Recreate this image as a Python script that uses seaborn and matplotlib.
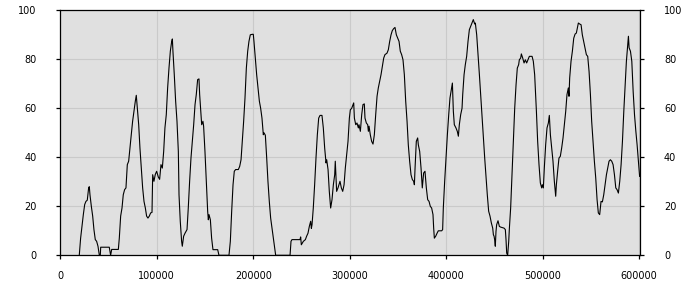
import matplotlib
matplotlib.use("Agg")
import matplotlib.pyplot as plt
import seaborn as sns
import pandas as pd

# x positions in thousands, y values (0-100)
x_k = [
    19.7, 21.1, 22.5, 23.9, 25.3, 26.6, 28.0, 29.4, 30.1, 30.8, 32.2, 33.6, 34.9, 36.3, 37.7, 39.1, 40.5, 41.5, 41.9,
    50.8, 52.2, 53.3, 60.2, 61.2, 62.6, 64.0, 65.3, 66.7, 68.1, 69.5, 70.9, 72.3, 73.6, 75.0, 76.4, 77.8, 78.8, 79.9,
    81.3, 82.6, 84.0, 85.4, 86.8, 88.2, 89.5, 90.9, 92.3, 93.7, 95.1, 95.8, 97.1, 98.5, 99.9,
    101.6, 103.0, 104.4, 105.8, 107.2, 108.5, 109.9, 111.3, 112.7, 114.1, 115.5, 116.2, 116.8, 118.2, 119.6, 121.0,
    122.4, 123.1, 124.4, 125.8, 126.5, 127.9, 129.3, 131.4, 132.7, 134.1, 135.5, 136.9, 138.3, 139.7, 141.0, 142.4,
    143.8, 144.5, 145.9, 146.6, 147.9, 148.6, 150.0, 151.4, 152.8, 153.5, 154.2, 155.6, 156.9, 158.3, 163.2, 164.5,
    174.9, 176.3, 177.7, 179.1, 180.4, 181.8, 184.6, 186.0, 187.4, 188.7, 190.1, 191.5, 192.9, 194.3, 195.6, 197.0, 199.1,
    200.1, 200.8, 202.2, 203.6, 205.0, 206.4, 207.7, 209.1, 210.5, 211.2, 212.6, 214.0, 215.3, 216.7, 218.1, 219.5,
    220.9, 222.3, 223.3, 238.2, 239.2, 240.2, 248.5, 249.2, 249.9, 252.0, 254.1, 255.4, 256.8, 258.2, 259.6, 260.3,
    261.0, 262.3, 263.7, 265.1, 266.5, 267.9, 269.3, 271.3, 272.7, 274.1, 275.5, 276.2, 277.6, 278.9, 280.3, 281.7,
    283.1, 284.5, 285.1, 286.5, 287.9, 290.0, 291.4, 292.8, 294.2, 295.5, 296.9, 298.3, 299.7,
    300.7, 302.1, 303.5, 304.2, 304.9, 306.3, 307.6, 309.0, 309.7, 311.1, 312.5, 313.8, 315.2, 315.9, 317.3, 318.7,
    319.4, 320.1, 321.4, 322.8, 324.2, 325.6, 327.0, 328.4, 329.7, 331.1, 332.5, 333.9, 335.3, 336.6, 338.7, 340.1,
    341.5, 342.9, 344.2, 345.6, 347.0, 348.4, 349.8, 351.2, 352.5, 353.9, 355.3, 356.7, 358.1, 359.5, 360.8, 362.2,
    363.6, 365.0, 366.4, 367.1, 367.8, 369.1, 370.5, 371.2, 372.6, 374.0, 375.3, 376.7, 378.1, 379.5, 380.9, 382.3,
    383.6, 385.0, 386.4, 387.1, 387.8, 389.2, 390.6, 391.9, 395.4,
    396.4, 397.1, 398.5, 399.9, 401.3, 402.7, 404.0, 405.4, 406.5, 407.5, 408.5, 410.2, 411.6, 412.7, 413.7, 415.1,
    416.5, 417.2, 418.6, 419.9, 421.3, 422.7, 424.1, 425.5, 426.9, 428.2, 429.6, 430.3, 431.7, 433.1, 434.5, 435.8,
    437.2, 438.6, 440.0, 441.4, 442.7, 444.1, 445.5, 446.9, 448.3, 449.0, 449.7, 450.3, 451.0, 451.7, 452.4, 453.8,
    455.2, 456.6, 460.0, 461.4, 462.1, 462.8, 463.8, 464.9, 465.6, 466.9, 468.3, 469.7, 471.1, 472.5, 473.8, 475.2,
    475.9, 477.3, 478.0, 479.4, 480.8, 482.1, 483.5, 484.9, 486.3, 489.1, 490.4, 491.8,
    493.6, 494.9, 496.3, 497.7, 499.1, 499.8, 500.8, 501.8, 503.2, 504.6, 506.0, 507.0, 508.1, 509.4, 510.8, 512.2,
    513.6, 514.3, 515.6, 517.0, 518.4, 519.8, 521.2, 522.6, 524.0, 525.3, 526.7, 527.4, 528.1, 529.5, 530.9, 532.3,
    533.7, 535.0, 536.4, 537.1, 538.5, 539.9, 541.2, 542.6, 544.0, 545.4, 546.8, 548.2, 549.6, 550.9, 552.3, 553.7,
    555.1, 556.5, 557.8, 559.2, 560.6, 562.0, 563.4, 564.8, 566.2, 567.5, 568.9, 570.3, 571.7, 573.1, 574.5, 575.9,
    577.2, 578.6, 580.0, 581.4, 582.8, 584.2, 585.5, 586.9, 588.3, 589.0, 589.7, 591.1, 592.5, 593.9, 595.3, 596.7,
    598.0, 599.3, 600.6,
]
y_vals = [
    0, 7, 12, 16.6, 20.7, 22, 22.5, 27.5, 28, 24.7, 20, 16, 10.5, 6.4, 5.7, 3.7, 0, 0, 3.3,
    3.3, 0, 2.4, 2.4, 7, 16, 19.3, 24.7, 26.8, 27.5, 37, 38.4, 43.8, 49.2, 54.7, 58.8, 62.9, 65.3, 60,
    53.3, 43.8, 35.6, 27.5, 22, 19.3, 16, 15.2, 16, 17.3, 17.5, 32.9, 30.2, 33, 34.3,
    32, 31, 37, 35.6, 42.4, 52, 57.4, 68.3, 76.4, 83.3, 87.3, 88.3, 83.3, 73.7, 62.9, 54.7,
    42.4, 24.7, 13.9, 5.7, 3.7, 7.8, 9, 10.5, 19.3, 30.2, 39.7, 46.5, 53.3, 61.5, 65.6, 71.7,
    72, 65.6, 57.4, 53.3, 54.7, 52.7, 42.4, 30.2, 18, 14.5, 16.6, 14.5, 7, 2.3, 2.3, 0,
    0, 5.7, 18, 28.8, 34.3, 35, 35, 36.3, 39, 46.5, 54.7, 64.2, 76.4, 83.3, 87.3, 90, 90.2,
    90.2, 87.3, 80.5, 73.7, 68.3, 62.9, 60.1, 56, 49.2, 50, 49, 39.7, 30.2, 22, 15.2, 11.1,
    7, 3, 0, 0, 5.7, 6.4, 6.4, 7.5, 4.3, 5.7, 6.4, 7.8, 9, 11.8, 13.9, 11,
    12.5, 19.3, 28.8, 39.7, 49.2, 56, 57.1, 57.1, 52, 43.8, 37.7, 39, 35, 26.1, 19.3, 22.7,
    28.8, 32.9, 38.4, 26.1, 27.5, 30.2, 27.5, 26.1, 28.8, 35.6, 41, 46.5, 56,
    59.4, 60, 61.5, 62.2, 56, 53.3, 54, 52, 53.3, 50.6, 57.4, 61.5, 61.8, 56, 54, 53.3,
    50.6, 52.7, 49.2, 46.5, 45.4, 49.2, 57.4, 64.9, 68.3, 71, 73.7, 77.1, 80.5, 81.9, 82.5, 83.9,
    87.3, 90, 91.7, 92.5, 93, 90, 88.6, 87.3, 83.3, 81.9, 79.8, 73.7, 62.9, 54.7, 45.1, 38.4,
    32.9, 30.9, 30.2, 28.8, 35.6, 46.5, 47.9, 45.1, 42.4, 35.6, 27.5, 33.6, 34.3, 27.5, 22.7, 22,
    20, 19.3, 16.6, 11.1, 7, 7.8, 9, 10, 10,
    10.5, 19.3, 30.2, 39.7, 49.2, 57.4, 64.2, 67.6, 70.3, 58.8, 53.3, 52, 50.6, 48.6, 53.3, 57.4,
    60, 65.6, 73.7, 77.8, 81.2, 87.3, 92.1, 93.5, 94.8, 96.2, 94.4, 94.8, 90, 81.9, 73.7, 65.6,
    57.4, 47.9, 39.7, 31.6, 24.7, 18, 16, 13.2, 11.1, 8.4, 7.8, 6.4, 3.7, 9.7, 12.5, 14.1,
    11.8, 11.5, 11.1, 10.5, 6.4, 0.9, 0, 5.7, 11.1, 19.3, 32.9, 46.5, 60, 69.6, 76.4, 77.8,
    79.8, 80.5, 82.2, 80.5, 78.5, 79.8, 78.5, 79.8, 81.2, 81.2, 79.2, 73.7,
    58.8, 46.5, 37, 29.5, 27.5, 28.8, 27.5, 35.6, 45.1, 52, 54, 57.1, 49.2, 43.8, 38.4, 30.2,
    24.1, 28.8, 34.3, 39.7, 40.4, 43.8, 47.9, 53.3, 58.8, 65.6, 68.3, 64.9, 72.4, 79.2, 83.3, 88.6,
    90.3, 90.7, 93.5, 94.8, 94.4, 94.1, 90, 87.3, 84.7, 81.9, 81.2, 75, 65.6, 54.7, 46.5, 38.4,
    31.6, 22.7, 17.3, 16.6, 22, 21.8, 24.7, 28.8, 32.9, 35.6, 38.4, 39, 38.4, 37, 32.9, 27.5,
    26.8, 25.4, 30.2, 37, 46.5, 58.8, 68.3, 79.2, 85.9, 89.4, 84.7, 83.3, 79.2, 66.9, 57.4, 50.6,
    45.1, 38.4, 32.2,
]

x_ticks = [0, 100000, 200000, 300000, 400000, 500000, 600000]
y_ticks = [0, 20, 40, 60, 80, 100]

df = pd.DataFrame({"x": [v * 1000 for v in x_k], "y": y_vals})

plt.rcParams["font.family"] = ["DejaVu Sans"]

fig = plt.figure(figsize=(7, 3), dpi=100)
ax = fig.add_axes([0.0861, 0.149, 0.8286, 0.8167])
ax.set_facecolor("#e0e0e0")

sns.lineplot(data=df, x="x", y="y", ax=ax, color="black", linewidth=0.8,
             estimator=None, sort=False, zorder=3)

ax.set_xlim(0, 601300)
ax.set_ylim(0, 100)
ax.set_xticks(x_ticks)
ax.set_xticklabels([str(t) for t in x_ticks])
ax.set_yticks(y_ticks)
ax.set_yticklabels([str(t) for t in y_ticks])
ax.set_xlabel("")
ax.set_ylabel("")

ax.grid(True, color="#cacaca", linewidth=0.8, zorder=0)
ax.set_axisbelow(True)

for s in ax.spines.values():
    s.set_color("black")
    s.set_linewidth(0.9)

ax.tick_params(axis="y", which="both", left=True, right=True, labelleft=True,
               labelright=True, direction="out", length=3, width=0.9,
               color="black", labelsize=7, labelcolor="black", pad=14)
ax.tick_params(axis="x", direction="out", length=3, width=0.9, color="black",
               labelsize=7, labelcolor="black", pad=8)

fig.savefig("out.png", dpi=100)
